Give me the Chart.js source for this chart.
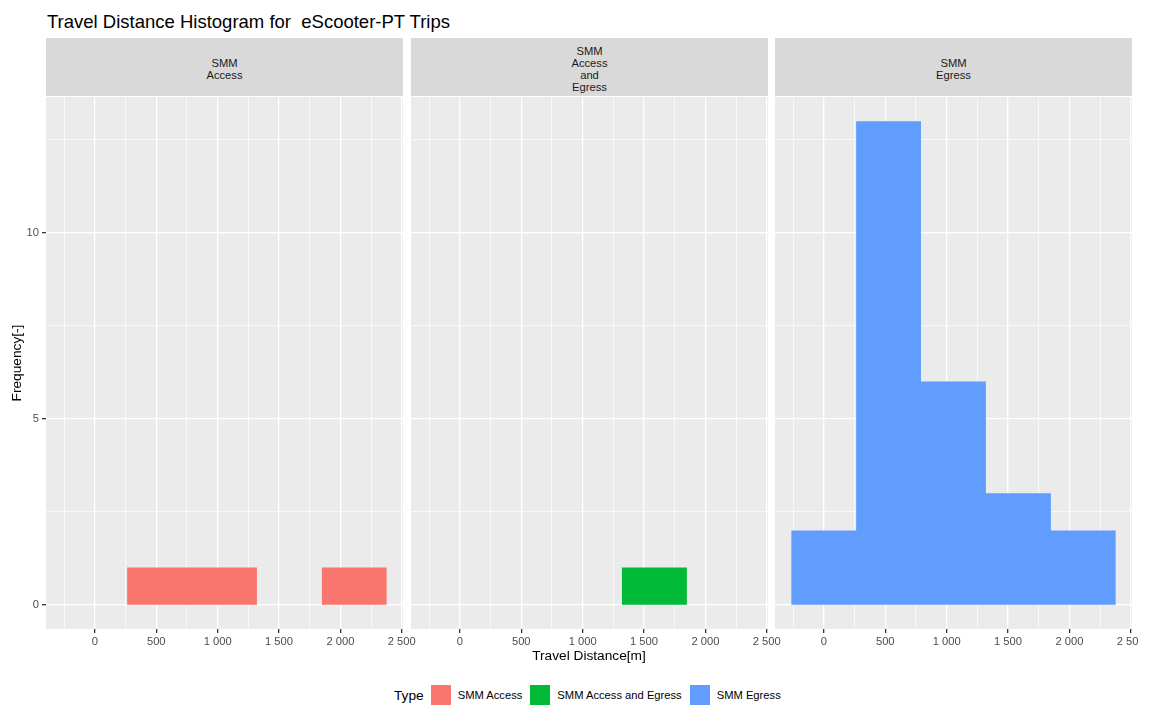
<!DOCTYPE html>
<html>
<head>
<meta charset="utf-8">
<script src="https://cdn.jsdelivr.net/npm/chart.js@4/dist/chart.umd.min.js"></script>
<style>
  body { margin: 0; background: #fff; font-family: "Liberation Sans", Arial, sans-serif; }
  #page { position: relative; width: 1150px; height: 705px; overflow: hidden; background: #fff; }
  .title { position: absolute; left: 47px; top: 12px; font-size: 18.5px; line-height: 20px; color: #000; white-space: pre; }
  .strip { position: absolute; top: 38px; height: 58px; width: 357px; background: #d9d9d9; color: #1a1a1a;
           font-size: 11.2px; line-height: 12px; text-align: center; white-space: pre-line;
           display: flex; align-items: center; justify-content: center; padding-top: 3px; box-sizing: border-box; }
  .panel { position: absolute; top: 83px; height: 576px; }
  .xtitle { position: absolute; left: 46px; width: 1086px; top: 648px; text-align: center; font-size: 13.7px; line-height: 16px; color: #000; }
  .legend { position: absolute; left: 394px; top: 685px; height: 20px; display: flex; align-items: center; }
  .legend .lab { font-size: 11.2px; color: #000; margin-left: 7px; margin-right: 8px; }
  .legend .key { width: 20px; height: 20px; }
  .legend .type { font-size: 13.7px; margin-right: 7px; }
</style>
</head>
<body>
<div id="page">
  <div class="title">Travel Distance Histogram for  eScooter-PT Trips</div>
  <div id="strips"></div>
  <div id="panels"></div>
  <div class="xtitle">Travel Distance[m]</div>
  <div class="legend" id="legend"><span class="type">Type</span></div>
</div>
<script>
// histogram bins shared by all facets
const binEdges = [-266, 263, 791, 1320, 1849, 2378];
const accessCounts = [0, 1, 1, 0, 1];
const accessEgressCounts = [0, 0, 0, 1, 0];
const egressCounts = [2, 13, 6, 3, 2];

const facetNames = ['SMM\nAccess', 'SMM\nAccess\nand\nEgress', 'SMM\nEgress'];
const typeNames = ['SMM Access', 'SMM Access and Egress', 'SMM Egress'];
const typeColors = ['#F8766D', '#00BA38', '#619CFF'];

const xMajor = [0, 500, 1000, 1500, 2000, 2500];
const xMinor = [-250, 250, 750, 1250, 1750, 2250];
const yMajor = [0, 5, 10];
const yMinor = [2.5, 7.5, 12.5];
const xRange = [-398, 2510];
const yRange = [-0.65, 13.65];

const panelLefts = [46, 411, 775];
const panelW = 357;

function fmt(v) {
  return String(v).replace(/\B(?=(\d{3})+(?!\d))/g, ' ');
}

// one point per bin edge; stepped line holds each count until the next edge
function stepPoints(counts) {
  return binEdges.map((e, i) => ({ x: e, y: counts[Math.min(i, counts.length - 1)] }));
}

const panelBg = {
  id: 'panelBg',
  beforeDraw(chart) {
    const a = chart.chartArea;
    const ctx = chart.ctx;
    ctx.save();
    ctx.fillStyle = '#EBEBEB';
    ctx.fillRect(a.left, a.top, a.right - a.left, a.bottom - a.top);
    ctx.restore();
  }
};

const allCounts = [accessCounts, accessEgressCounts, egressCounts];
const stripsEl = document.getElementById('strips');
const panelsEl = document.getElementById('panels');

facetNames.forEach((name, i) => {
  const s = document.createElement('div');
  s.className = 'strip';
  s.style.left = panelLefts[i] + 'px';
  s.textContent = name;
  stripsEl.appendChild(s);

  const first = i === 0;
  const leftExtra = first ? 46 : 0;
  const rightExtra = 22;
  const wrap = document.createElement('div');
  wrap.className = 'panel';
  wrap.style.left = (panelLefts[i] - leftExtra) + 'px';
  let w = panelW + leftExtra + rightExtra;
  if (i === 2) w = Math.min(w, 1138 - panelLefts[i]);
  wrap.style.width = w + 'px';
  wrap.style.overflow = 'hidden';
  const cv = document.createElement('canvas');
  cv.width = panelW + leftExtra + rightExtra;
  cv.height = 576;
  cv.style.width = cv.width + 'px';
  cv.style.height = '576px';
  wrap.appendChild(cv);
  panelsEl.appendChild(wrap);

  const xTicksAll = xMinor.concat(xMajor).sort((a, b) => a - b);
  const yTicksAll = yMinor.concat(yMajor).sort((a, b) => a - b);

  new Chart(cv.getContext('2d'), {
    type: 'line',
    data: {
      datasets: [{
        data: stepPoints(allCounts[i]),
        stepped: true,
        fill: 'origin',
        backgroundColor: typeColors[i],
        borderWidth: 0,
        pointRadius: 0
      }]
    },
    options: {
      responsive: false,
      animation: false,
      layout: { padding: { top: 14, right: rightExtra, left: 0, bottom: 0 } },
      plugins: { legend: { display: false }, tooltip: { enabled: false } },
      scales: {
        x: {
          type: 'linear',
          min: xRange[0],
          max: xRange[1],
          afterBuildTicks: (sc) => { sc.ticks = xTicksAll.map(v => ({ value: v })); },
          afterFit: (sc) => { sc.height = 30; },
          border: { display: false },
          grid: {
            color: '#FFFFFF',
            lineWidth: (c) => (xMajor.includes(c.tick && c.tick.value) ? 1.3 : 0.65),
            tickColor: (c) => (xMajor.includes(c.tick && c.tick.value) ? '#333333' : 'rgba(0,0,0,0)'),
            tickLength: 4,
            drawTicks: true
          },
          ticks: {
            autoSkip: false,
            maxRotation: 0,
            minRotation: 0,
            padding: 2,
            color: '#4D4D4D',
            font: { family: 'Liberation Sans', size: 11.2 },
            callback: (v) => (xMajor.includes(v) ? fmt(v) : '')
          }
        },
        y: {
          type: 'linear',
          min: yRange[0],
          max: yRange[1],
          afterBuildTicks: (sc) => { sc.ticks = yTicksAll.map(v => ({ value: v })); },
          afterFit: (sc) => { sc.width = first ? 46 : 0; },
          border: { display: false },
          title: {
            display: first,
            text: 'Frequency[-]',
            color: '#000',
            font: { family: 'Liberation Sans', size: 13.7 },
            padding: { top: 9, bottom: 0 }
          },
          grid: {
            color: '#FFFFFF',
            lineWidth: (c) => (yMajor.includes(c.tick && c.tick.value) ? 1.3 : 0.65),
            tickColor: (c) => (first && yMajor.includes(c.tick && c.tick.value) ? '#333333' : 'rgba(0,0,0,0)'),
            tickLength: 4,
            drawTicks: first
          },
          ticks: {
            display: first,
            padding: 3,
            color: '#4D4D4D',
            font: { family: 'Liberation Sans', size: 11.2 },
            callback: (v) => (yMajor.includes(v) ? String(v) : '')
          }
        }
      }
    },
    plugins: [panelBg]
  });
});

// legend for the fill colours
const legendEl = document.getElementById('legend');
typeNames.forEach((t, i) => {
  const k = document.createElement('span');
  k.className = 'key';
  k.style.background = typeColors[i];
  const l = document.createElement('span');
  l.className = 'lab';
  l.textContent = t;
  legendEl.appendChild(k);
  legendEl.appendChild(l);
});
</script>
</body>
</html>
